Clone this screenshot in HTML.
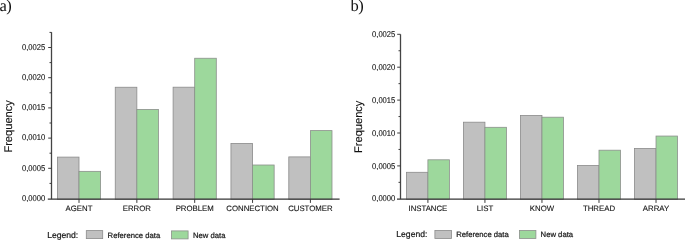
<!DOCTYPE html>
<html><head><meta charset="utf-8"><style>
html,body{margin:0;padding:0;background:#fff;}
svg{display:block;will-change:transform;}
text{text-rendering:geometricPrecision;}
.g{fill:#c0c0c0;stroke:#8a8a8a;stroke-width:0.8;}
.n{fill:#9dd89c;stroke:#8c8f8c;stroke-width:0.8;}
.ax{stroke:#363636;stroke-width:1.2;fill:none;}
.ay{stroke:#444;stroke-width:1.3;fill:none;}
.tk{stroke:#3c3c3c;stroke-width:1;}
.t{font-family:"Liberation Sans",sans-serif;font-size:7.6px;fill:#111;stroke:#111;stroke-width:0.1px;}
.xl{font-size:7.8px;}
.f{font-family:"Liberation Sans",sans-serif;font-size:11.1px;fill:#111;stroke:#111;stroke-width:0.12px;}
.l{font-family:"Liberation Sans",sans-serif;font-size:7.7px;fill:#1a1a1a;stroke:#1a1a1a;stroke-width:0.22px;}
.lg{font-family:"Liberation Sans",sans-serif;font-size:8.6px;fill:#1a1a1a;stroke:#1a1a1a;stroke-width:0.22px;}
.s{font-family:"Liberation Serif",serif;font-size:16.5px;fill:#111;letter-spacing:-0.6px;}
</style></head><body>
<svg width="685" height="240" viewBox="0 0 685 240">
<rect width="685" height="240" fill="#fff"/>
<text x="-0.6" y="10.5" class="s">a)</text>
<text x="350.6" y="10.5" class="s">b)</text>
<rect x="57.40" y="157.10" width="21.60" height="42.20" class="g"/>
<rect x="79.00" y="171.35" width="21.60" height="27.95" class="n"/>
<rect x="115.25" y="87.25" width="21.60" height="112.05" class="g"/>
<rect x="136.85" y="109.40" width="21.60" height="89.90" class="n"/>
<rect x="173.10" y="87.20" width="21.60" height="112.10" class="g"/>
<rect x="194.70" y="58.25" width="21.60" height="141.05" class="n"/>
<rect x="230.95" y="143.40" width="21.60" height="55.90" class="g"/>
<rect x="252.55" y="165.00" width="21.60" height="34.30" class="n"/>
<rect x="288.80" y="156.90" width="21.60" height="42.40" class="g"/>
<rect x="310.40" y="130.60" width="21.60" height="68.70" class="n"/>
<line x1="51.5" y1="32.2" x2="51.5" y2="199.1" class="ay"/>
<line x1="47.8" y1="199.1" x2="339.6" y2="199.1" class="ax"/>
<text transform="translate(45.2,200.75) scale(1,1.1)" text-anchor="end" class="t">0,0000</text>
<line x1="49.5" y1="183.40" x2="51.5" y2="183.40" class="tk"/>
<line x1="48.2" y1="168.30" x2="51.5" y2="168.30" class="tk"/>
<text transform="translate(45.2,170.55) scale(1,1.1)" text-anchor="end" class="t">0,0005</text>
<line x1="49.5" y1="153.20" x2="51.5" y2="153.20" class="tk"/>
<line x1="48.2" y1="138.10" x2="51.5" y2="138.10" class="tk"/>
<text transform="translate(45.2,140.35) scale(1,1.1)" text-anchor="end" class="t">0,0010</text>
<line x1="49.5" y1="123.00" x2="51.5" y2="123.00" class="tk"/>
<line x1="48.2" y1="107.90" x2="51.5" y2="107.90" class="tk"/>
<text transform="translate(45.2,110.15) scale(1,1.1)" text-anchor="end" class="t">0,0015</text>
<line x1="49.5" y1="92.80" x2="51.5" y2="92.80" class="tk"/>
<line x1="48.2" y1="77.70" x2="51.5" y2="77.70" class="tk"/>
<text transform="translate(45.2,79.95) scale(1,1.1)" text-anchor="end" class="t">0,0020</text>
<line x1="49.5" y1="62.60" x2="51.5" y2="62.60" class="tk"/>
<line x1="48.2" y1="47.50" x2="51.5" y2="47.50" class="tk"/>
<text transform="translate(45.2,49.75) scale(1,1.1)" text-anchor="end" class="t">0,0025</text>
<line x1="49.5" y1="32.40" x2="51.5" y2="32.40" class="tk"/>
<line x1="79.00" y1="199.1" x2="79.00" y2="202.9" class="tk"/>
<text x="79.00" y="211.00" text-anchor="middle" class="t xl">AGENT</text>
<line x1="136.85" y1="199.1" x2="136.85" y2="202.9" class="tk"/>
<text x="136.85" y="211.00" text-anchor="middle" class="t xl">ERROR</text>
<line x1="194.70" y1="199.1" x2="194.70" y2="202.9" class="tk"/>
<text x="194.70" y="211.00" text-anchor="middle" class="t xl">PROBLEM</text>
<line x1="252.55" y1="199.1" x2="252.55" y2="202.9" class="tk"/>
<text x="252.55" y="211.00" text-anchor="middle" class="t xl">CONNECTION</text>
<line x1="310.40" y1="199.1" x2="310.40" y2="202.9" class="tk"/>
<text x="310.40" y="211.00" text-anchor="middle" class="t xl">CUSTOMER</text>
<text transform="translate(11.5,152.6) rotate(-90)" class="f">Frequency</text>
<rect x="406.40" y="172.30" width="21.50" height="27.00" class="g"/>
<rect x="427.90" y="159.80" width="21.50" height="39.50" class="n"/>
<rect x="463.43" y="122.20" width="21.50" height="77.10" class="g"/>
<rect x="484.93" y="127.30" width="21.50" height="72.00" class="n"/>
<rect x="520.46" y="115.50" width="21.50" height="83.80" class="g"/>
<rect x="541.96" y="117.20" width="21.50" height="82.10" class="n"/>
<rect x="577.49" y="165.50" width="21.50" height="33.80" class="g"/>
<rect x="598.99" y="150.20" width="21.50" height="49.10" class="n"/>
<rect x="634.52" y="148.50" width="21.50" height="50.80" class="g"/>
<rect x="656.02" y="136.05" width="21.50" height="63.25" class="n"/>
<line x1="400.5" y1="34.3" x2="400.5" y2="199.1" class="ay"/>
<line x1="397.0" y1="199.1" x2="685" y2="199.1" class="ax"/>
<text transform="translate(395.3,201.40) scale(1,1.1)" text-anchor="end" class="t">0,0000</text>
<line x1="398.5" y1="182.35" x2="400.5" y2="182.35" class="tk"/>
<line x1="397.2" y1="165.90" x2="400.5" y2="165.90" class="tk"/>
<text transform="translate(395.3,168.50) scale(1,1.1)" text-anchor="end" class="t">0,0005</text>
<line x1="398.5" y1="149.45" x2="400.5" y2="149.45" class="tk"/>
<line x1="397.2" y1="133.00" x2="400.5" y2="133.00" class="tk"/>
<text transform="translate(395.3,135.60) scale(1,1.1)" text-anchor="end" class="t">0,0010</text>
<line x1="398.5" y1="116.55" x2="400.5" y2="116.55" class="tk"/>
<line x1="397.2" y1="100.10" x2="400.5" y2="100.10" class="tk"/>
<text transform="translate(395.3,102.70) scale(1,1.1)" text-anchor="end" class="t">0,0015</text>
<line x1="398.5" y1="83.65" x2="400.5" y2="83.65" class="tk"/>
<line x1="397.2" y1="67.20" x2="400.5" y2="67.20" class="tk"/>
<text transform="translate(395.3,69.80) scale(1,1.1)" text-anchor="end" class="t">0,0020</text>
<line x1="398.5" y1="50.75" x2="400.5" y2="50.75" class="tk"/>
<line x1="397.2" y1="34.30" x2="400.5" y2="34.30" class="tk"/>
<text transform="translate(395.3,36.90) scale(1,1.1)" text-anchor="end" class="t">0,0025</text>
<line x1="427.90" y1="199.1" x2="427.90" y2="202.9" class="tk"/>
<text x="427.90" y="211.00" text-anchor="middle" class="t xl">INSTANCE</text>
<line x1="484.93" y1="199.1" x2="484.93" y2="202.9" class="tk"/>
<text x="484.93" y="211.00" text-anchor="middle" class="t xl">LIST</text>
<line x1="541.96" y1="199.1" x2="541.96" y2="202.9" class="tk"/>
<text x="541.96" y="211.00" text-anchor="middle" class="t xl">KNOW</text>
<line x1="598.99" y1="199.1" x2="598.99" y2="202.9" class="tk"/>
<text x="598.99" y="211.00" text-anchor="middle" class="t xl">THREAD</text>
<line x1="656.02" y1="199.1" x2="656.02" y2="202.9" class="tk"/>
<text x="656.02" y="211.00" text-anchor="middle" class="t xl">ARRAY</text>
<text transform="translate(361.9,153.0) rotate(-90)" class="f">Frequency</text>
<text x="47.2" y="237.8" class="lg">Legend:</text>
<rect x="86.3" y="230.6" width="16.4" height="8.0" class="g"/>
<text x="107.6" y="237.65" class="l">Reference data</text>
<rect x="171.5" y="230.9" width="16.6" height="8.0" class="n"/>
<text x="193" y="237.65" class="l">New data</text>
<text x="396.3" y="237.0" class="lg">Legend:</text>
<rect x="434.9" y="230.5" width="16.6" height="8.0" class="g"/>
<text x="456.2" y="236.9" class="l">Reference data</text>
<rect x="519.4" y="230.5" width="16.5" height="8.0" class="n"/>
<text x="540.6" y="236.9" class="l">New data</text>
</svg>
</body></html>
